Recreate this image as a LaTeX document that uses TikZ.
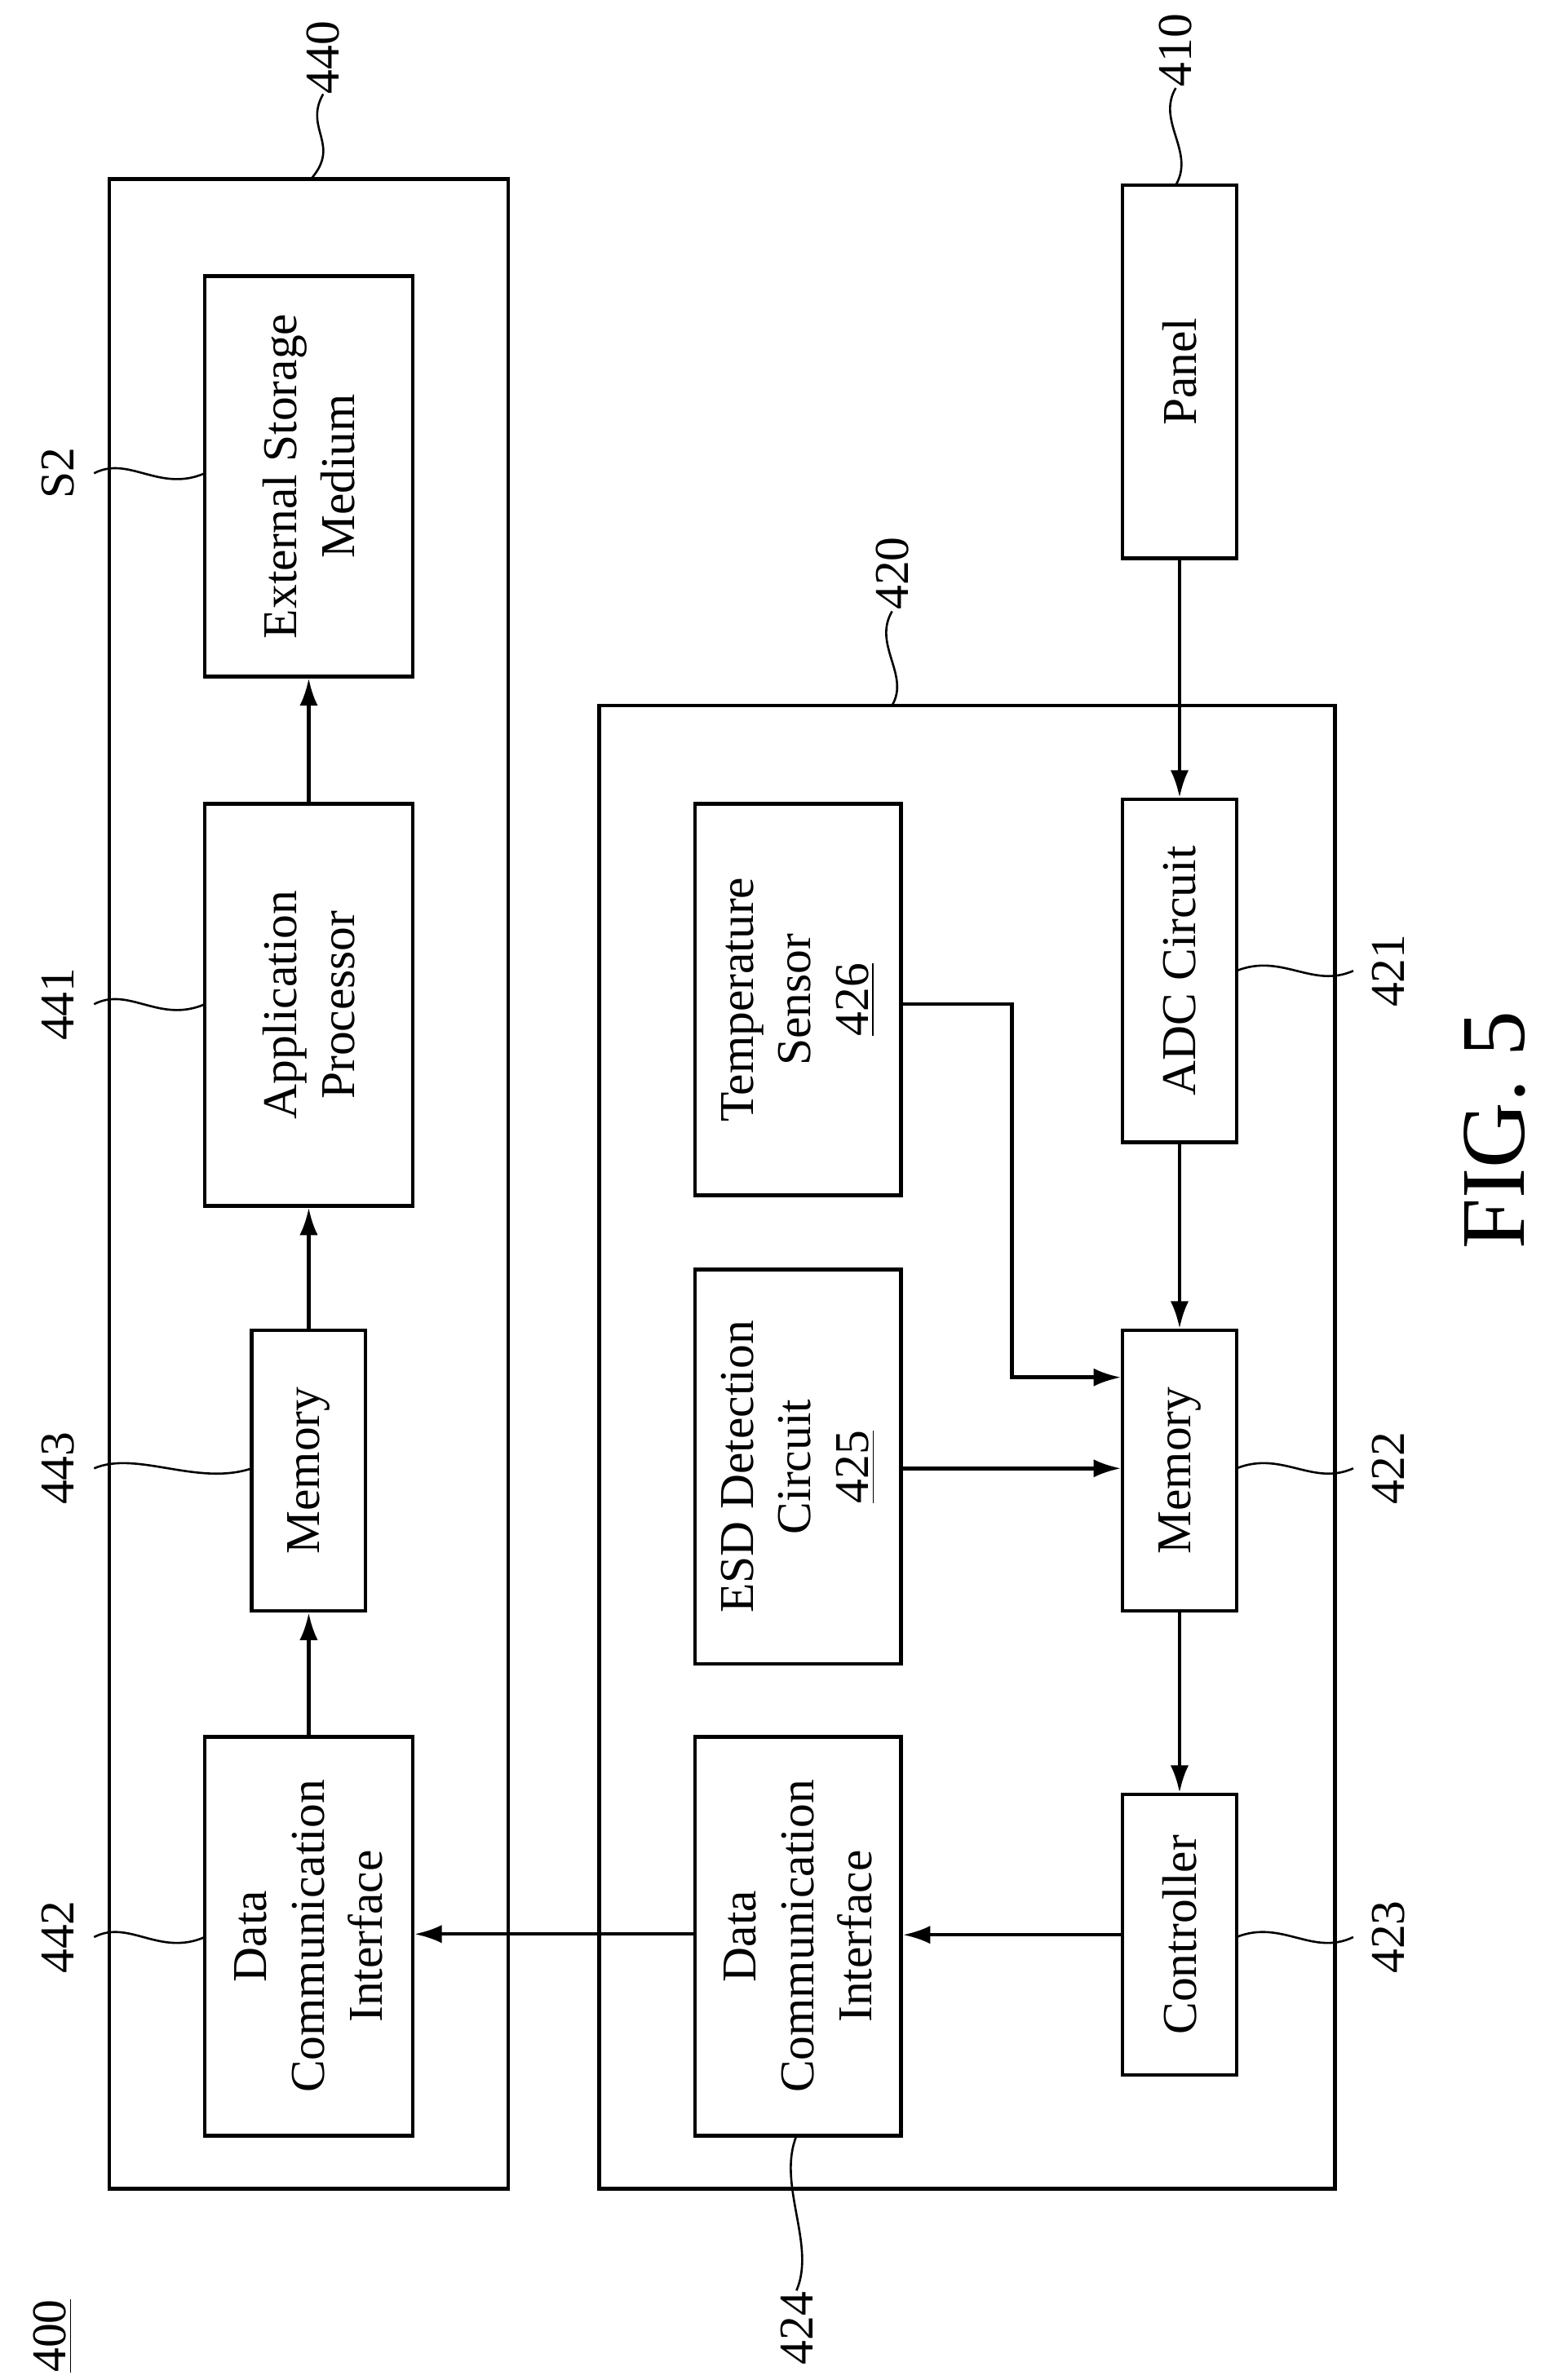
\documentclass[tikz,border=0pt]{standalone}
\usepackage{fontspec}
\setmainfont{Liberation Serif}
\usetikzlibrary{arrows.meta}
\begin{document}
\begin{tikzpicture}[x=0.5pt,y=-0.5pt,
  every node/.style={font=\fontsize{16}{19}\selectfont},
  box/.style={draw,line width=1.2pt,inner sep=0pt},
  txt/.style={rotate=90,align=center},
  arr/.style={line width=1.2pt,-{Latex[length=9pt,width=6pt]}},
  lead/.style={line width=0.7pt}]
\useasboundingbox (0,0) rectangle (1024,1569);
% outer boxes
\node[box,minimum width=263*0.5pt,minimum height=1325*0.5pt] (o440) at (203.5,780.5) {};
\node[box,minimum width=485*0.5pt,minimum height=978*0.5pt] (o420) at (637.5,954) {};
% left column
\node[box,minimum width=137*0.5pt,minimum height=264*0.5pt] (esm) at (203.5,314) {};
\node[txt] at (esm) {External Storage\\Medium};
\node[box,minimum width=137*0.5pt,minimum height=265*0.5pt] (ap) at (203.5,662.5) {};
\node[txt] at (ap) {Application\\Processor};
\node[box,minimum width=75*0.5pt,minimum height=185*0.5pt] (m443) at (203.5,969.5) {};
\node[txt] at (m443) {Memory};
\node[box,minimum width=137*0.5pt,minimum height=263*0.5pt] (d442) at (203.5,1276.5) {};
\node[txt] at (d442) {Data\\Communication\\Interface};
% right part
\node[box,minimum width=75*0.5pt,minimum height=246*0.5pt] (panel) at (777.5,245) {};
\node[txt] at (panel) {Panel};
\node[box,minimum width=75*0.5pt,minimum height=226*0.5pt] (adc) at (777.5,640) {};
\node[txt] at (adc) {ADC Circuit};
\node[box,minimum width=136*0.5pt,minimum height=258*0.5pt] (ts) at (526,659) {};
\node[txt] at (ts) {Temperature\\Sensor\\\underline{426}};
\node[box,minimum width=136*0.5pt,minimum height=260*0.5pt] (esd) at (526,967) {};
\node[txt] at (esd) {ESD Detection\\Circuit\\\underline{425}};
\node[box,minimum width=75*0.5pt,minimum height=185*0.5pt] (m422) at (777.5,969.5) {};
\node[txt] at (m422) {Memory};
\node[box,minimum width=136*0.5pt,minimum height=263*0.5pt] (d424) at (526,1276.5) {};
\node[txt] at (d424) {Data\\Communication\\Interface};
\node[box,minimum width=75*0.5pt,minimum height=185*0.5pt] (ctl) at (777.5,1275.5) {};
\node[txt] at (ctl) {Controller};
% arrows
\draw[arr] (panel.south) -- (adc.north);
\draw[arr] (adc.south) -- (m422.north);
\draw[arr] (m422.south) -- (ctl.north);
\draw[arr] (ctl.west) -- (d424.east |- ctl.west);
\draw[arr] (d424.west |- 0,1275) -- (d442.east |- 0,1275);
\draw[arr] (d442.north) -- (m443.south);
\draw[arr] (m443.north) -- (ap.south);
\draw[arr] (ap.north) -- (esm.south);
\draw[arr] (ts.east |- 0,662) -- (667,662) -- (667,908) -- (m422.west |- 0,908);
\draw[arr] (esd.east |- 0,968) -- (m422.west |- 0,968);
% leaders and labels
\node[txt] (l440) at (213,38) {440};
\draw[lead] (213,62) .. controls (200,85) and (225,95) .. (205,118);
\node[txt] (l410) at (775,33) {410};
\draw[lead] (775,58) .. controls (762,80) and (788,100) .. (775,122);
\node[txt] (l420) at (588,378) {420};
\draw[lead] (588,403) .. controls (575,425) and (600,445) .. (588,465);
\node[txt] (lS2) at (38,312) {S2};
\draw[lead] (62,312) .. controls (85,300) and (105,325) .. (135,312);
\node[txt] (l441) at (38,662) {441};
\draw[lead] (62,662) .. controls (85,650) and (105,675) .. (135,662);
\node[txt] (l443) at (38,968) {443};
\draw[lead] (62,968) .. controls (90,956) and (130,980) .. (166,968);
\node[txt] (l442) at (38,1277) {442};
\draw[lead] (62,1277) .. controls (85,1265) and (105,1290) .. (135,1277);
\node[txt] (l421) at (915,640) {421};
\draw[lead] (815,640) .. controls (845,628) and (865,652) .. (892,640);
\node[txt] (l422) at (915,968) {422};
\draw[lead] (815,968) .. controls (845,956) and (865,980) .. (892,968);
\node[txt] (l423) at (915,1277) {423};
\draw[lead] (815,1277) .. controls (845,1265) and (865,1290) .. (892,1277);
\node[txt] (l424) at (525,1535) {424};
\draw[lead] (525,1408) .. controls (512,1440) and (538,1480) .. (525,1510);
\node[txt] (l400) at (35,1540) {\underline{400}};
\node[txt,font=\fontsize{30}{34}\selectfont] (fig) at (985,745) {FIG. 5};
\end{tikzpicture}
\end{document}
